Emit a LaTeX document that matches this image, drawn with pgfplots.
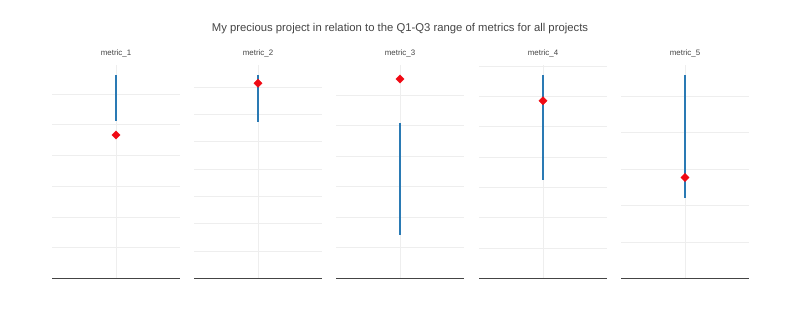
\documentclass[border=0pt]{standalone}
\usepackage{pgfplots}
\pgfplotsset{compat=1.18}
\usepackage{fontspec}
\setmainfont{Liberation Sans}
\definecolor{txtgray}{HTML}{444444}
\definecolor{gridgray}{HTML}{EEEEEE}
\definecolor{axgray}{HTML}{444444}
\definecolor{pblue}{HTML}{2A7AB4}
\definecolor{pred}{HTML}{F00A14}
\pgfplotsset{
  panel/.style={
    anchor=south west, width=128pt, height=213.3pt, scale only axis,
    xmin=-1, xmax=1, ymin=0, xtick={0}, ytick distance=1,
    xticklabels={}, yticklabels={}, major tick length=0pt,
    xmajorgrids, ymajorgrids, grid style={draw=gridgray, line width=0.7pt},
    axis x line*=bottom, axis y line*=left,
    x axis line style={draw=axgray, line width=1pt, -},
    y axis line style={draw=none},
    clip=false,
    title style={at={(0.5,1)}, anchor=base, yshift=3.3pt, inner sep=0pt,
      font=\fontsize{7.9}{9}\selectfont, text=txtgray},
  },
  rng/.style={draw=pblue, line width=1.5pt, no marks},
  pt/.style={only marks, mark=square*, mark size=2.9pt, mark options={fill=pred, draw=pred, rotate=45}, draw=pred},
}
\begin{document}
\begin{tikzpicture}[x=1pt,y=1pt]
\path (0,0) rectangle (800,329);
\node[anchor=base, text=txtgray, font=\fontsize{11.3}{13}\selectfont, inner sep=0pt] at (400,297.5) {My precious project in relation to the Q1-Q3 range of metrics for all projects};
\begin{axis}[panel, at={(52pt,50.7pt)}, ymax=6.95, title={metric\_1}]
\addplot[rng] coordinates {(0,5.13) (0,6.62)};
\addplot[pt] coordinates {(0,4.67)};
\end{axis}
\begin{axis}[panel, at={(194pt,50.7pt)}, ymax=7.81, title={metric\_2}]
\addplot[rng] coordinates {(0,5.74) (0,7.45)};
\addplot[pt] coordinates {(0,7.14)};
\end{axis}
\begin{axis}[panel, at={(336pt,50.7pt)}, ymax=6.98, title={metric\_3}]
\addplot[rng] coordinates {(0,1.42) (0,5.09)};
\addplot[pt] coordinates {(0,6.52)};
\end{axis}
\begin{axis}[panel, at={(479pt,50.7pt)}, ymax=7.04, title={metric\_4}]
\addplot[rng] coordinates {(0,3.24) (0,6.71)};
\addplot[pt] coordinates {(0,5.86)};
\end{axis}
\begin{axis}[panel, at={(621pt,50.7pt)}, ymax=5.86, title={metric\_5}]
\addplot[rng] coordinates {(0,2.20) (0,5.59)};
\addplot[pt] coordinates {(0,2.77)};
\end{axis}
\end{tikzpicture}
\end{document}
